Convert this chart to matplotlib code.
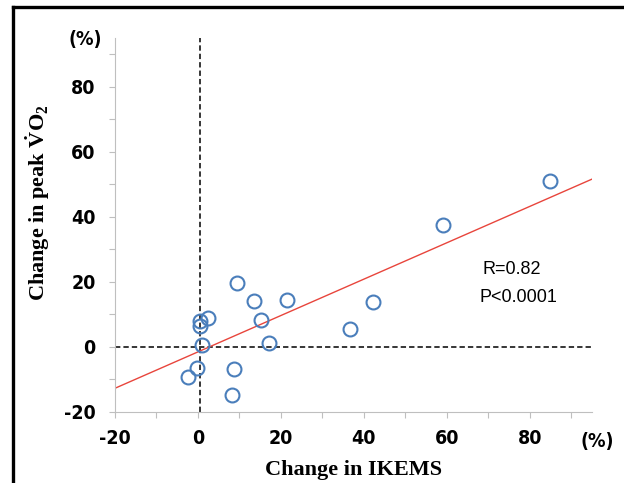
import numpy as np
import matplotlib
matplotlib.use("Agg")
import matplotlib.pyplot as plt
from matplotlib.lines import Line2D
from matplotlib.ticker import FixedLocator

# data (% change)
ikems = [84.8, 59.0, 42.3, 36.7, 21.4, 13.5, 9.5, 15.2, 17.1,
         8.7, 8.2, 2.4, 0.6, 0.6, 1.0, -0.3, -2.4]
vo2 = [51.0, 37.5, 13.8, 5.5, 14.5, 14.2, 19.7, 8.3, 1.2,
       -6.8, -14.8, 8.9, 8.0, 6.5, 0.6, -6.5, -9.2]
xlim = [-20, 95]
ylim = [-20, 95]
xticks = [-20, 0, 20, 40, 60, 80]
yticks = [-20, 0, 20, 40, 60, 80]
minor = [-10, 10, 30, 50, 70, 90]
stat_lines = ["R=0.82", "P<0.0001"]

plt.rcParams["mathtext.fontset"] = "custom"
plt.rcParams["mathtext.rm"] = "Liberation Serif:bold"
plt.rcParams["mathtext.bf"] = "Liberation Serif:bold"

fig = plt.figure(figsize=(6.24, 4.83), dpi=100)
ax = fig.add_axes([0.1843, 0.147, 0.7644, 0.774])

grey = "#bfbfbf"
blue = "#4a7ebb"

# reference lines through zero
ax.axhline(0, color="black", ls=(0, (3.5, 2)), lw=1.1, zorder=1)
ax.axvline(0.5, color="black", ls=(0, (3.5, 2)), lw=1.1, zorder=1)

# regression line
k, b = np.polyfit(ikems, vo2, 1)
xx = np.array(xlim)
ax.plot(xx, k * xx + b, color="#e8453c", lw=1.0, zorder=2)

ax.plot(ikems, vo2, "o", mfc="none", mec=blue, mew=1.5, ms=10, zorder=3)

ax.set_xlim(xlim)
ax.set_ylim(ylim)
for s in ["top", "right"]:
    ax.spines[s].set_visible(False)
for s in ["left", "bottom"]:
    ax.spines[s].set_color(grey)
    ax.spines[s].set_linewidth(0.8)

ax.xaxis.set_major_locator(FixedLocator(xticks))
ax.yaxis.set_major_locator(FixedLocator(yticks))
ax.xaxis.set_minor_locator(FixedLocator(minor))
ax.yaxis.set_minor_locator(FixedLocator(minor))
ax.tick_params(which="both", direction="out", length=4, color=grey, width=0.8)
ax.tick_params(axis="y", pad=10)
ax.tick_params(axis="x", pad=8)

tfont = dict(family="DejaVu Sans", stretch="condensed", weight="bold", size=14)
ax.set_xticklabels([str(t) for t in xticks], **tfont)
ax.set_yticklabels([str(t) for t in yticks], **tfont)

lfont = dict(family=["Liberation Serif", "DejaVu Serif"], weight="bold", size=16)
ax.set_xlabel("Change in IKEMS", labelpad=9, **lfont)
ax.set_ylabel(r"Change in peak $\dot{\mathrm{V}}\mathrm{O}_{2}$", **lfont)
ax.yaxis.set_label_coords(-0.133, 0.56)

fig.text(85 / 624, 1 - 40 / 483, "(%)", ha="center", va="center", **tfont)
fig.text(597 / 624, 1 - 442 / 483, "(%)", ha="center", va="center", **tfont)

sfont = dict(family=["Liberation Sans", "DejaVu Sans"], size=13)
ax.text(483 / 624, 1 - 269 / 483, stat_lines[0], transform=fig.transFigure,
        ha="left", va="center", **sfont)
ax.text(479 / 624, 1 - 297 / 483, stat_lines[1], transform=fig.transFigure,
        ha="left", va="center", **sfont)

# frame on left and top edge
fig.add_artist(Line2D([13 / 624, 13 / 624], [0, 1 - 7 / 483], color="black", lw=2.4,
                      transform=fig.transFigure))
fig.add_artist(Line2D([13 / 624, 1], [1 - 7 / 483, 1 - 7 / 483], color="black", lw=2.4,
                      transform=fig.transFigure))

fig.savefig("out.png", dpi=100)
